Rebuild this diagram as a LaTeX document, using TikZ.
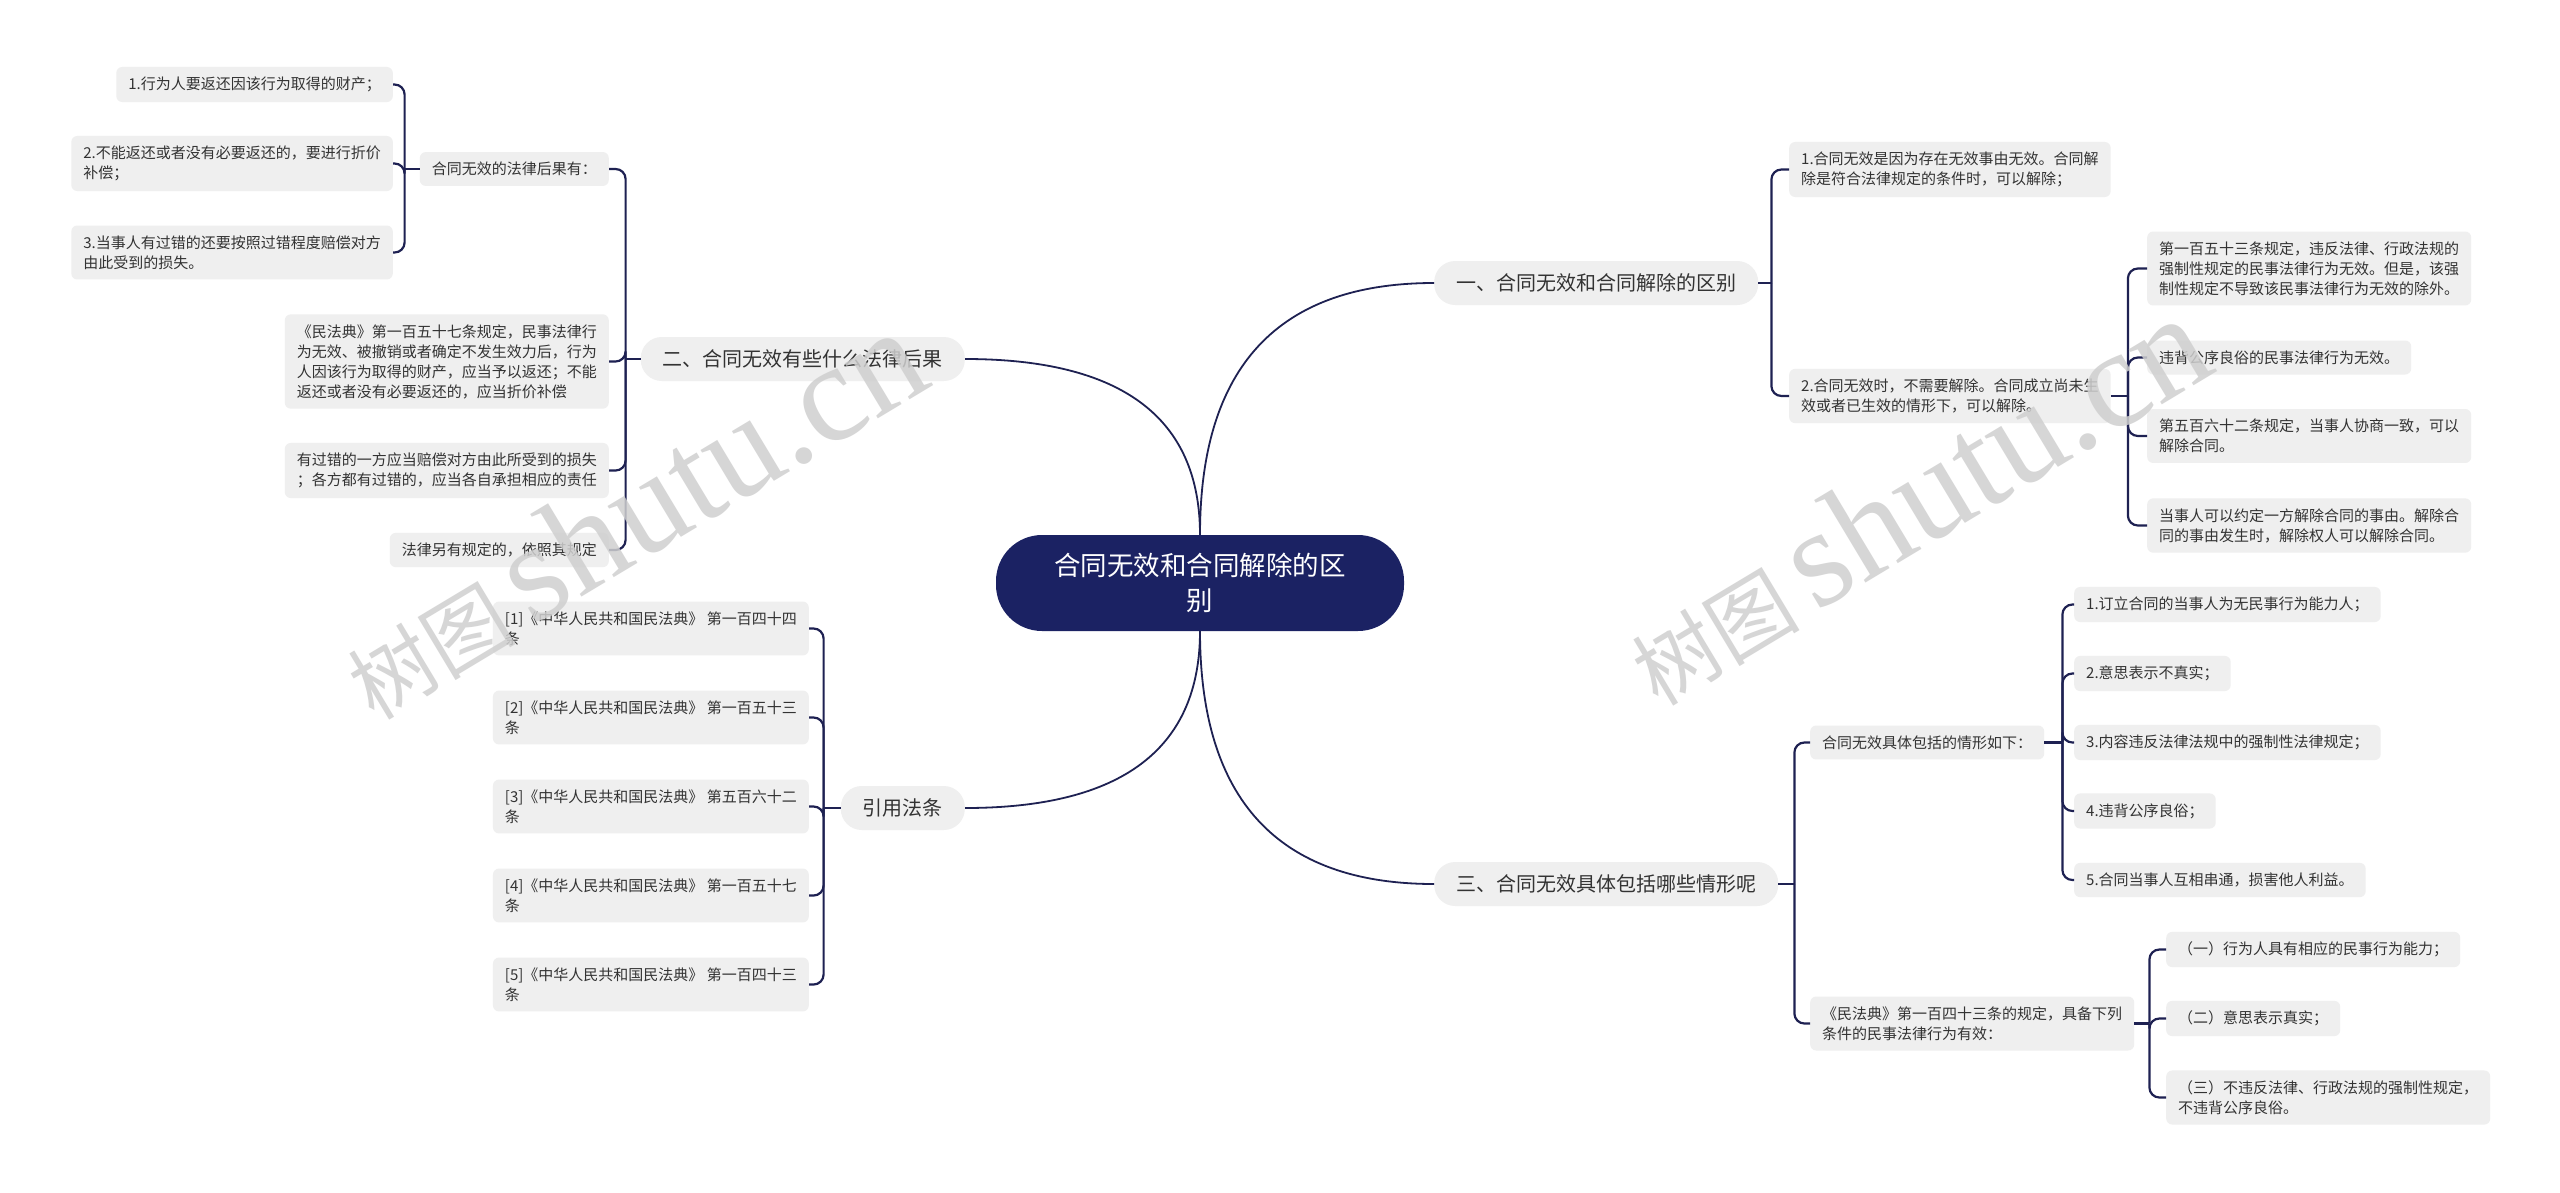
\documentclass[tikz,border=0pt]{standalone}
\usepackage{fontspec}
\setmainfont{Noto Sans CJK SC}
\newfontfamily\wmfont{Liberation Serif}
\usetikzlibrary{calc}

\definecolor{rootblue}{HTML}{1B2263}
\definecolor{linkblue}{HTML}{1E2152}
\definecolor{boxgray}{HTML}{EFEFEF}
\definecolor{textgray}{HTML}{333333}
\definecolor{wmgray}{HTML}{CFCFCF}

\tikzset{
  root/.style={fill=rootblue, text=white, rounded corners=46pt, minimum width=408pt,
    minimum height=96pt, align=center, font=\fontsize{26.5}{35}\selectfont},
  topic/.style={fill=boxgray, text=textgray, rounded corners=21pt, inner xsep=22pt,
    minimum height=44pt, font=\fontsize{20}{26}\selectfont},
  leaf/.style={fill=boxgray, text=textgray, rounded corners=6pt, inner xsep=12pt,
    inner ysep=10pt, align=left, font=\fontsize{15}{20}\selectfont},
  link/.style={draw=linkblue, line width=1.8pt},
  bracket/.style={draw=linkblue, line width=2.2pt, rounded corners=10pt},
  watermark/.style={rotate=31, text=wmgray, opacity=0.85},
}

\begin{document}
\begin{tikzpicture}[x=1pt,y=-1pt]
  \fill[white] (0,0) rectangle (2560,1192);
  \useasboundingbox (0,0) rectangle (2560,1192);

  % centre and main topics
  \node[root] (root) at (1200,583) {合同无效和合同解除的区\\别};
  \node[topic, anchor=west] (b1) at (1434,283) {一、合同无效和合同解除的区别};
  \node[topic, anchor=east] (b2) at (965,359) {二、合同无效有些什么法律后果};
  \node[topic, anchor=west] (b3) at (1434,884) {三、合同无效具体包括哪些情形呢};
  \node[topic, anchor=east] (refs) at (965,808) {引用法条};

  \coordinate (k1) at (root.north |- b1.west);
  \coordinate (k2) at (root.north |- b2.east);
  \coordinate (k3) at (root.south |- b3.west);
  \coordinate (k4) at (root.south |- refs.east);
  \draw[link] (root.north) .. controls ($(root.north)!2/3!(k1)$) and ($(b1.west)!2/3!(k1)$) .. (b1.west);
  \draw[link] (root.north) .. controls ($(root.north)!2/3!(k2)$) and ($(b2.east)!2/3!(k2)$) .. (b2.east);
  \draw[link] (root.south) .. controls ($(root.south)!2/3!(k3)$) and ($(b3.west)!2/3!(k3)$) .. (b3.west);
  \draw[link] (root.south) .. controls ($(root.south)!2/3!(k4)$) and ($(refs.east)!2/3!(k4)$) .. (refs.east);

  % 一
  \node[leaf, anchor=west] (c11) at (1789,169.5) {1.合同无效是因为存在无效事由无效。合同解\\除是符合法律规定的条件时，可以解除；};
  \node[leaf, anchor=west] (c12) at (1789,396) {2.合同无效时，不需要解除。合同成立尚未生\\效或者已生效的情形下，可以解除。};
  \node[leaf, anchor=west] (e1) at (2147,268.5) {第一百五十三条规定，违反法律、行政法规的\\强制性规定的民事法律行为无效。但是，该强\\制性规定不导致该民事法律行为无效的除外。};
  \node[leaf, anchor=west] (e2) at (2147,357.5) {违背公序良俗的民事法律行为无效。};
  \node[leaf, anchor=west] (e3) at (2147,436) {第五百六十二条规定，当事人协商一致，可以\\解除合同。};
  \node[leaf, anchor=west] (e4) at (2147,525.5) {当事人可以约定一方解除合同的事由。解除合\\同的事由发生时，解除权人可以解除合同。};

  \draw[bracket] (b1.east) -- ++(13,0) coordinate (j1);
  \draw[bracket] (j1) |- (c11.west);
  \draw[bracket] (j1) |- (c12.west);
  \draw[bracket] (c12.east) -- ++(17,0) coordinate (j12);
  \draw[bracket] (j12) |- (e1.west);
  \draw[bracket] (j12) |- (e2.west);
  \draw[bracket] (j12) |- (e3.west);
  \draw[bracket] (j12) |- (e4.west);

  % 二
  \node[leaf, anchor=east] (c21) at (609,169) {合同无效的法律后果有：};
  \node[leaf, anchor=east] (c22) at (609,361.5) {《民法典》第一百五十七条规定，民事法律行\\为无效、被撤销或者确定不发生效力后，行为\\人因该行为取得的财产，应当予以返还；不能\\返还或者没有必要返还的，应当折价补偿};
  \node[leaf, anchor=east] (c23) at (609,470.5) {有过错的一方应当赔偿对方由此所受到的损失\\；各方都有过错的，应当各自承担相应的责任};
  \node[leaf, anchor=east] (c24) at (609,550) {法律另有规定的，依照其规定};
  \node[leaf, anchor=east] (d1) at (393,84.5) {1.行为人要返还因该行为取得的财产；};
  \node[leaf, anchor=east] (d2) at (393,163.5) {2.不能返还或者没有必要返还的，要进行折价\\补偿；};
  \node[leaf, anchor=east] (d3) at (393,252.5) {3.当事人有过错的还要按照过错程度赔偿对方\\由此受到的损失。};

  \draw[bracket] (b2.west) -- ++(-15,0) coordinate (j2);
  \draw[bracket] (j2) |- (c21.east);
  \draw[bracket] (j2) |- (c22.east);
  \draw[bracket] (j2) |- (c23.east);
  \draw[bracket] (j2) |- (c24.east);
  \draw[bracket] (c21.west) -- ++(-15,0) coordinate (j21);
  \draw[bracket] (j21) |- (d1.east);
  \draw[bracket] (j21) |- (d2.east);
  \draw[bracket] (j21) |- (d3.east);

  % 三
  \node[leaf, anchor=west] (c31) at (1810,742.5) {合同无效具体包括的情形如下：};
  \node[leaf, anchor=west] (c32) at (1810,1023.5) {《民法典》第一百四十三条的规定，具备下列\\条件的民事法律行为有效：};
  \node[leaf, anchor=west] (f1) at (2074,604.5) {1.订立合同的当事人为无民事行为能力人；};
  \node[leaf, anchor=west] (f2) at (2074,673.5) {2.意思表示不真实；};
  \node[leaf, anchor=west] (f3) at (2074,742.5) {3.内容违反法律法规中的强制性法律规定；};
  \node[leaf, anchor=west] (f4) at (2074,811) {4.违背公序良俗；};
  \node[leaf, anchor=west] (f5) at (2074,880) {5.合同当事人互相串通，损害他人利益。};
  \node[leaf, anchor=west] (g1) at (2166,949.5) {（一）行为人具有相应的民事行为能力；};
  \node[leaf, anchor=west] (g2) at (2166,1018.5) {（二）意思表示真实；};
  \node[leaf, anchor=west] (g3) at (2166,1097.5) {（三）不违反法律、行政法规的强制性规定，\\不违背公序良俗。};

  \draw[bracket] (b3.east) -- ++(16,0) coordinate (j3);
  \draw[bracket] (j3) |- (c31.west);
  \draw[bracket] (j3) |- (c32.west);
  \draw[bracket] (c31.east) -- ++(18,0) coordinate (j31);
  \draw[bracket] (j31) |- (f1.west);
  \draw[bracket] (j31) |- (f2.west);
  \draw[bracket] (j31) |- (f3.west);
  \draw[bracket] (j31) |- (f4.west);
  \draw[bracket] (j31) |- (f5.west);
  \draw[bracket] (c32.east) -- ++(15,0) coordinate (j32);
  \draw[bracket] (j32) |- (g1.west);
  \draw[bracket] (j32) |- (g2.west);
  \draw[bracket] (j32) |- (g3.west);

  % 引用法条
  \node[leaf, anchor=east] (r1) at (809,628.5) {[1]《中华人民共和国民法典》 第一百四十四\\条};
  \node[leaf, anchor=east] (r2) at (809,717.5) {[2]《中华人民共和国民法典》 第一百五十三\\条};
  \node[leaf, anchor=east] (r3) at (809,806.5) {[3]《中华人民共和国民法典》 第五百六十二\\条};
  \node[leaf, anchor=east] (r4) at (809,895.5) {[4]《中华人民共和国民法典》 第一百五十七\\条};
  \node[leaf, anchor=east] (r5) at (809,984.5) {[5]《中华人民共和国民法典》 第一百四十三\\条};

  \draw[bracket] (refs.west) -- ++(-17,0) coordinate (j4);
  \draw[bracket] (j4) |- (r1.east);
  \draw[bracket] (j4) |- (r2.east);
  \draw[bracket] (j4) |- (r3.east);
  \draw[bracket] (j4) |- (r4.east);
  \draw[bracket] (j4) |- (r5.east);

  % watermarks
  \node[watermark] (wm1) at (632,514) {{\fontsize{84}{84}\selectfont 树图}\hspace{16pt}{\wmfont\fontsize{140}{140}\selectfont shutu.cn}};
  \node[watermark] (wm2) at (1916,500) {{\fontsize{84}{84}\selectfont 树图}\hspace{16pt}{\wmfont\fontsize{140}{140}\selectfont shutu.cn}};
\end{tikzpicture}
\end{document}
